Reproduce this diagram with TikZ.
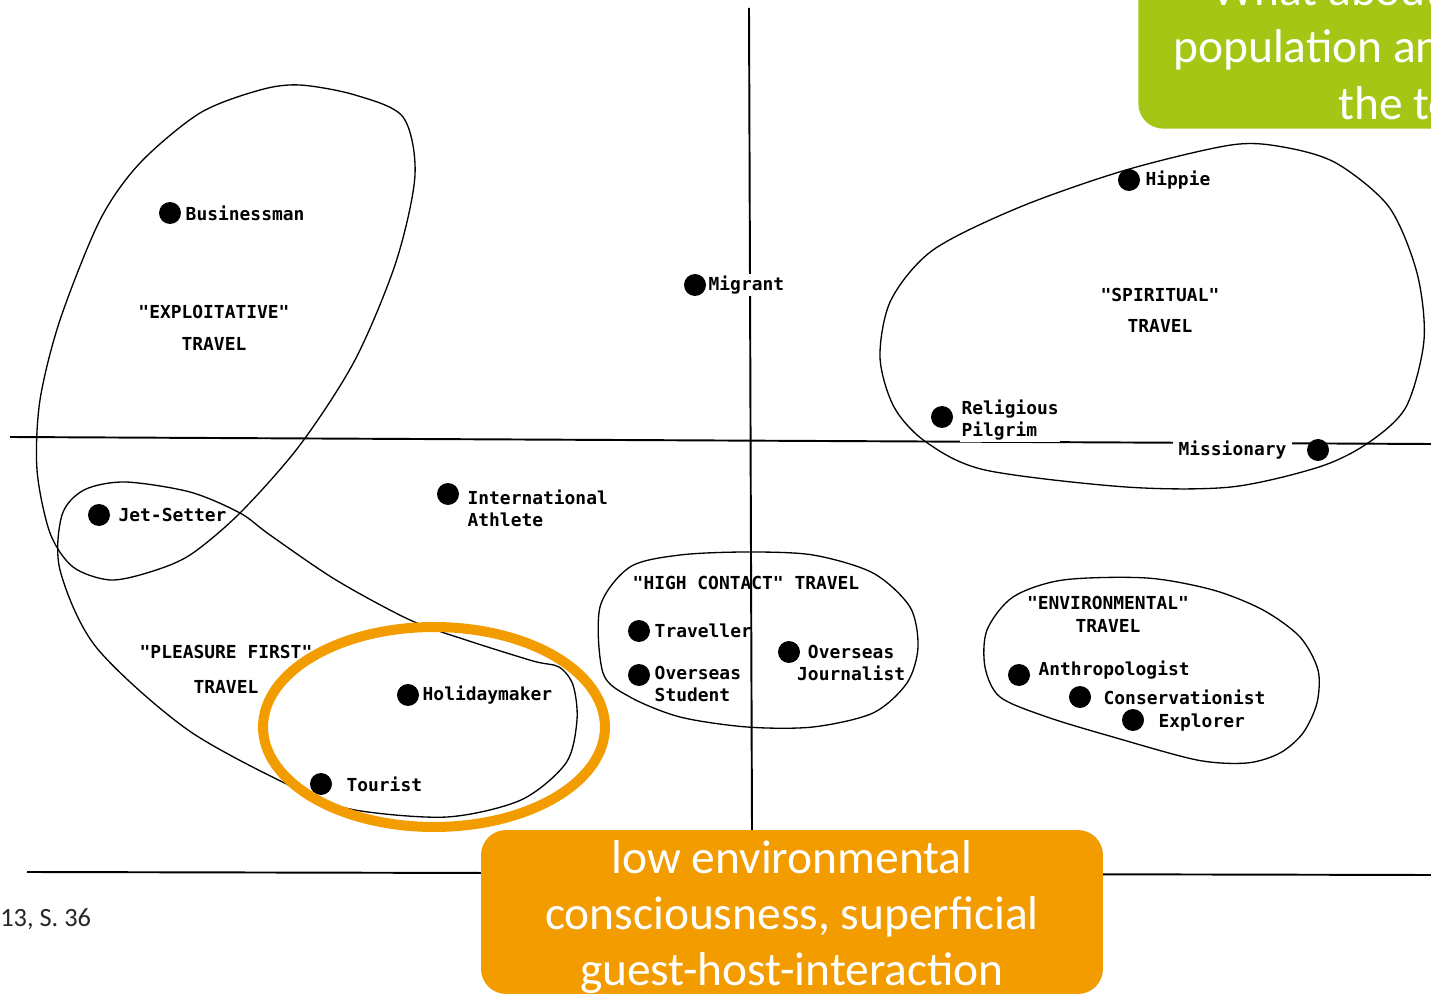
\documentclass[tikz,border=0pt]{standalone}
\usepackage{fontspec}
\setmainfont{Carlito}
\newfontfamily\typefont{DejaVu Sans Mono}
\usepackage{tikz}
\usepackage{xcolor}
\usetikzlibrary{positioning}

\definecolor{slideorange}{RGB}{243,156,0}
\definecolor{slidegreen}{RGB}{165,198,20}

\begin{document}
\begin{tikzpicture}[
  x=0.02cm, y=-0.02cm,
  font=\typefont\bfseries\fontsize{10.2}{12.5}\selectfont,
  typedot/.style={circle, fill=black, inner sep=0pt, minimum size=0.44cm},
  typename/.style={inner sep=1pt, align=left},
  covername/.style={typename, fill=white},
  cluster/.style={align=center, inner sep=0pt},
  axisline/.style={line width=1.1pt, draw=black},
  boundary/.style={line width=0.75pt, draw=black},
  highlight/.style={line width=5.7pt, draw=slideorange},
  callout/.style={fill=slideorange, rounded corners=0.5cm, inner sep=0pt},
  slidetext/.style={text=white, inner sep=0pt, align=center,
    font=\rmfamily\fontsize{27}{32}\selectfont}
]
  \useasboundingbox (0,0) rectangle (1431,996);
  \clip (0,0) rectangle (1431,996);

  % axes
  \coordinate (hleft) at (10,437);
  \coordinate (hright) at (1431,444);
  \coordinate (vtop) at (749,8);
  \coordinate (vbottom) at (752,830);
  \coordinate (bleft) at (27,872);
  \coordinate (bright) at (1431,875);
  \draw[axisline] (hleft) -- (hright);
  \draw[axisline] (vtop) -- (vbottom);
  \draw[axisline] (bleft) -- (bright);

  % clusters
  \draw[boundary] plot[smooth cycle] coordinates {(300,85) (355,95) (403,117) (415,175)
    (396,262) (355,360) (300,445) (240,513) (190,555) (150,572) (110,580) (73,567) (50,533)
    (37,470) (40,400) (60,320) (100,220) (140,163) (200,113) (260,90)};
  \draw[boundary] plot[smooth cycle] coordinates {(84,490) (125,482) (190,492) (240,513) (270,535)
    (336,580) (410,620) (466,640) (533,661) (559,667) (573,685) (577,720) (566,763) (521,800)
    (447,817) (355,810) (299,790) (188,730) (96,647) (60,570) (62,515)};
  \draw[boundary] plot[smooth cycle] coordinates {(1231,145) (1283,147) (1336,163) (1389,207)
    (1417,273) (1424,340) (1406,407) (1368,443) (1319,467) (1231,487) (1126,487) (985,470)
    (926,442) (894,407) (880,357) (891,300) (933,250) (1020,207) (1126,170)};
  \draw[boundary] plot[smooth cycle] coordinates {(600,607) (630,567) (680,555) (747,552) (813,555)
    (873,573) (910,607) (918,647) (907,683) (873,713) (813,727) (747,727) (680,717) (630,697)
    (603,673)};
  \draw[boundary] plot[smooth cycle] coordinates {(1013,597) (1063,580) (1147,578) (1213,590)
    (1263,610) (1300,637) (1318,670) (1317,703) (1303,733) (1280,753) (1247,763) (1197,760)
    (1113,737) (1047,717) (1000,697) (985,667) (987,630)};

  \node[cluster] (exploitative) at (214,328) {"EXPLOITATIVE"\\[5.6pt]TRAVEL};
  \node[cluster] (spiritual) at (1160,310) {"SPIRITUAL"\\[5pt]TRAVEL};
  \node[cluster] (highcontact) at (746,583) {"HIGH CONTACT" TRAVEL};
  \node[cluster] (environmental) at (1108,614) {"ENVIRONMENTAL"\\[0.5pt]TRAVEL};
  \node[cluster] (pleasure) at (226,669) {"PLEASURE FIRST"\\[7.3pt]TRAVEL};

  % tourist types
  \node[typedot] (businessman) at (170,213) {};
  \node[typedot] (migrant) at (695,285) {};
  \node[typedot] (hippie) at (1129,180) {};
  \node[typedot] (pilgrim) at (942,417) {};
  \node[typedot] (missionary) at (1318,450) {};
  \node[typedot] (jetsetter) at (99,515) {};
  \node[typedot] (athlete) at (448,494) {};
  \node[typedot] (traveller) at (639,631) {};
  \node[typedot] (student) at (639,675) {};
  \node[typedot] (journalist) at (789,652) {};
  \node[typedot] (holidaymaker) at (408,695) {};
  \node[typedot] (tourist) at (321,784) {};
  \node[typedot] (anthropologist) at (1019,675) {};
  \node[typedot] (conservationist) at (1080,697) {};
  \node[typedot] (explorer) at (1133,720) {};

  \node[typename, right=1.3pt of businessman] (businessman-l) {Businessman};
  \node[covername, right=0.1pt of migrant] (migrant-l) {Migrant};
  \node[typename, right=1.8pt of hippie] (hippie-l) {Hippie};
  \node[covername, right=3.5pt of pilgrim, yshift=-2pt] (pilgrim-l) {Religious\\Pilgrim};
  \node[covername, inner xsep=3pt, left=8.3pt of missionary] (missionary-l) {Missionary};
  \node[typename, right=3.5pt of jetsetter] (jetsetter-l) {Jet-Setter};
  \node[typename, right=3.5pt of athlete, yshift=-7.9pt] (athlete-l) {International\\Athlete};
  \node[typename, right=1.3pt of traveller] (traveller-l) {Traveller};
  \node[typename, right=1.3pt of student, yshift=-5.1pt] (student-l) {Overseas\\Student};
  \node[typename, align=center, right=-3pt of journalist, yshift=-6.5pt] (journalist-l) {Overseas\\Journalist};
  \node[typename, right=0.7pt of holidaymaker] (holidaymaker-l) {Holidaymaker};
  \node[typename, right=6.9pt of tourist] (tourist-l) {Tourist};
  \node[typename, right=3.5pt of anthropologist, yshift=2.8pt] (anthropologist-l) {Anthropologist};
  \node[typename, right=5.8pt of conservationist] (conservationist-l) {Conservationist};
  \node[typename, right=6.9pt of explorer, yshift=-1.7pt] (explorer-l) {Explorer};

  % slide overlay
  \draw[highlight] (434,727) ellipse [x radius=3.42cm, y radius=2cm];
  \node[callout, minimum width=12.44cm, minimum height=3.28cm] (summary) at (792,912) {};
  \node[slidetext] (summary-text) at (792,917) {low environmental\\consciousness, superficial\\guest-host-interaction};

  \node[callout, fill=slidegreen, anchor=south west, minimum width=7cm, minimum height=4cm] (question) at (1138,129) {};
  \node[slidetext, anchor=base west] (question-1) at (1212,6) {What about};
  \node[slidetext, anchor=base west] (question-2) at (1173,63) {population and};
  \node[slidetext, anchor=base west] (question-3) at (1338,120) {the tourists};

  \node[anchor=base west, inner sep=0pt, text=black!85,
    font=\rmfamily\fontsize{15}{17}\selectfont] (source) at (0,926) {13, S. 36};
\end{tikzpicture}
\end{document}
